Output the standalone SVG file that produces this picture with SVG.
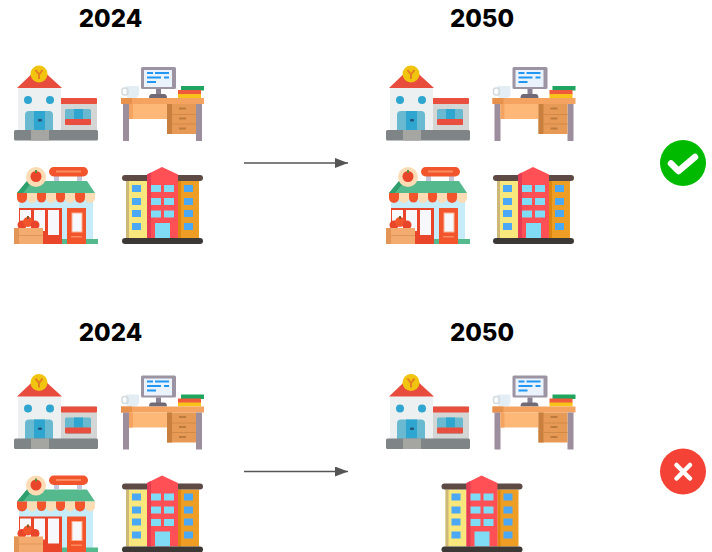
<svg xmlns="http://www.w3.org/2000/svg" xmlns:xlink="http://www.w3.org/1999/xlink" width="712" height="552" viewBox="0 0 712 552">
<style>
.yr{font-family:"Inter","Liberation Sans",sans-serif;font-weight:800;font-size:24px;fill:#000;text-anchor:middle}
.conn{stroke:#555;stroke-width:1.6;fill:none}
</style>
<defs>
<marker id="ah" markerUnits="userSpaceOnUse" markerWidth="13" markerHeight="10" refX="13" refY="5" orient="auto"><path d="M0 0L13 5L0 10Z" fill="#555"/></marker>
<g id="bank">
<rect x="60" y="98" width="37" height="33" fill="#d3d6d4"/>
<rect x="60" y="98" width="37" height="6" rx="1" fill="#e94f3f"/>
<rect x="65" y="109" width="26" height="16" rx="1.5" fill="#69b9d0"/>
<rect x="74" y="109" width="9" height="10" fill="#2ea6d0"/>
<rect x="65" y="119" width="26" height="6" rx="1" fill="#e94f3f"/>
<rect x="18" y="88" width="43" height="43" fill="#ecf0f1"/>
<path d="M17 88L39 67L62 88Z" fill="#e84c3d"/>
<circle cx="28" cy="100" r="4" fill="#2ea6d0"/><circle cx="50" cy="100" r="4" fill="#2ea6d0"/>
<path d="M25 131V115Q25 111 29 111H49Q53 111 53 115V131Z" fill="#69b9d0"/>
<rect x="34" y="111" width="11" height="20" fill="#2ea6d0"/>
<rect x="38" y="119" width="4" height="2.5" rx="1" fill="#24527a"/>
<rect x="14" y="130" width="84" height="10.500" rx="1.500" fill="#7f8487"/>
<rect x="31" y="130" width="18" height="10.500" fill="#a5a6a1"/>
<circle cx="39" cy="74" r="8.500" fill="#f1c40f"/>
<path d="M35.500 70L39 74.500L42.500 70M39 74.500V79" stroke="#e67e22" stroke-width="2" fill="none"/>
</g>
<g id="desk">
<rect x="141" y="67" width="35" height="22" rx="1.500" fill="#9c93a3"/>
<rect x="144" y="70" width="28" height="17" fill="#eaf3fb"/>
<path d="M147 73H153M155 73H169M147 77.500H161M164 77.500H169M147 82H156" stroke="#2196f3" stroke-width="1.800" fill="none"/>
<rect x="156" y="89" width="5" height="6" fill="#8a8292"/>
<path d="M149 98Q149 94 152 94H164Q167 94 167 98Z" fill="#6f6a75"/>
<path d="M126 86H138.500Q139 86 139 88V93Q139 98 134 98H130Q126 98 126 94Z" fill="#e3eef4"/>
<rect x="122" y="88" width="6" height="7" rx="2.500" fill="none" stroke="#d3dadd" stroke-width="1.500"/>
<rect x="181" y="86" width="23" height="4.500" fill="#1fa55f"/>
<rect x="178" y="90" width="23" height="4.500" fill="#ee5a3a"/>
<rect x="178" y="94" width="23" height="4" fill="#f8c21a"/>
<rect x="121" y="98" width="83" height="6" fill="#f4a460"/>
<rect x="121" y="98" width="11" height="6" fill="#e8914c"/>
<rect x="123" y="104" width="6" height="37" fill="#9c8e9d"/>
<rect x="196" y="104" width="6" height="37" fill="#9c8e9d"/>
<rect x="129" y="104" width="38" height="15" fill="#fdb878"/>
<rect x="129" y="104" width="4" height="15" fill="#f4a460"/>
<rect x="167" y="104" width="29" height="30" fill="#e79a55"/>
<rect x="167" y="104" width="5" height="30" fill="#c9803f"/>
<path d="M172 114.500H196M172 124H196" stroke="#d08a48" stroke-width="1"/>
<path d="M179 108.500H186M179 118.500H186M179 128.500H186" stroke="#bd7a3d" stroke-width="2"/>
</g>
<g id="shop">
<rect x="19" y="193" width="74" height="51" fill="#c6ecf9"/>
<path d="M27 181H87L95 193H17Z" fill="#54b98d"/>
<path d="M27 181L17 193H23L33 181Z" fill="#2f9f6d"/>
<g fill="#f2552c"><path d="M17 193h10v5a5 5 0 0 1-10 0Z"/><path d="M37 193h9v5a4.500 4.500 0 0 1-9 0Z"/><path d="M56 193h9v5a4.500 4.500 0 0 1-9 0Z"/><path d="M75 193h10v5a5 5 0 0 1-10 0Z"/></g>
<g fill="#fbdcb5"><path d="M27 193h10v5a5 5 0 0 1-10 0Z"/><path d="M46 193h10v5a5 5 0 0 1-10 0Z"/><path d="M65 193h10v5a5 5 0 0 1-10 0Z"/><path d="M85 193h10v5a5 5 0 0 1-10 0Z"/></g>
<rect x="54" y="176" width="5" height="5" fill="#c5c6dc"/><rect x="77" y="176" width="5" height="5" fill="#c5c6dc"/>
<rect x="49" y="167" width="39" height="9.500" rx="4.700" fill="#f2552c"/>
<rect x="56" y="170.500" width="25" height="2" fill="#f98b5f"/>
<circle cx="36" cy="177" r="10" fill="#fbdcb5"/>
<circle cx="36" cy="176.500" r="5.500" fill="#e8452b"/>
<rect x="35" y="170" width="2" height="3" fill="#5a8f3c"/>
<rect x="19" y="208" width="43" height="36" fill="#e8452b"/>
<rect x="20" y="210" width="11" height="21" fill="#f6f8fb"/>
<rect x="34" y="210" width="11" height="21" fill="#f6f8fb"/>
<rect x="48" y="210" width="11" height="25" fill="#f6f8fb"/>
<rect x="62" y="239" width="36" height="5" fill="#54b98d"/>
<rect x="67" y="208" width="19" height="36" fill="#f2552c"/>
<rect x="72" y="213" width="10" height="19" fill="#f6f8fb" stroke="#fbb08f" stroke-width="1"/>
<rect x="71" y="236" width="11" height="1.500" fill="#f98b5f"/>
<circle cx="22" cy="225" r="4.500" fill="#e8452b"/><circle cx="28" cy="222" r="5" fill="#f2552c"/><circle cx="35" cy="225" r="4.500" fill="#e8452b"/>
<rect x="27" y="216" width="2" height="3" fill="#8a5a2b"/>
<rect x="14" y="228" width="29" height="16" fill="#f4ab6f"/>
<rect x="14" y="228" width="5" height="16" fill="#e39557"/>
<rect x="14" y="235" width="29" height="1" fill="#e39557"/>
</g>
<g id="building">
<rect x="126" y="181" width="21" height="57" fill="#f8e77c"/>
<rect x="126" y="181" width="3" height="57" fill="#cdb878"/>
<rect x="178" y="181" width="21" height="57" fill="#ee9d25"/>
<rect x="178" y="181" width="3" height="57" fill="#dd8610"/>
<rect x="122" y="175" width="81" height="6" rx="3" fill="#5d4a45"/>
<path d="M147 174.500L162 167L178 174.500V238H147Z" fill="#ff5055"/>
<path d="M147 174.500L151 172.500V238H147Z" fill="#e63d55"/>
<g fill="#4aa8f5">
<rect x="132" y="185" width="9" height="7"/><rect x="132" y="198" width="9" height="7"/><rect x="132" y="210" width="9" height="7"/><rect x="132" y="223" width="9" height="7"/>
<rect x="184" y="185" width="9" height="7"/><rect x="184" y="198" width="9" height="7"/><rect x="184" y="210" width="9" height="7"/><rect x="184" y="223" width="9" height="7"/>
</g>
<g fill="#80dcf5">
<rect x="151" y="185" width="10" height="7"/><rect x="164" y="185" width="10" height="7"/>
<rect x="151" y="198" width="10" height="7"/><rect x="164" y="198" width="10" height="7"/>
<rect x="151" y="210.500" width="10" height="7"/><rect x="164" y="210.500" width="10" height="7"/>
<rect x="155" y="223" width="15" height="15"/>
</g>
<rect x="122" y="238" width="81" height="6" rx="3" fill="#3c3836"/>
</g>
</defs>

<g id="label-2024-top"><text class="yr" x="110.500" y="26.500">2024</text></g>
<g id="label-2050-top"><text class="yr" x="482" y="26.500">2050</text></g>
<g id="label-2024-bottom"><text class="yr" x="110.500" y="340.500">2024</text></g>
<g id="label-2050-bottom"><text class="yr" x="482" y="340.500">2050</text></g>

<g id="top-2024">
<g id="bank-a"><use href="#bank"/></g>
<g id="desk-a"><use href="#desk"/></g>
<g id="shop-a"><use href="#shop"/></g>
<g id="building-a"><use href="#building"/></g>
</g>
<g id="top-2050">
<g id="bank-b"><use href="#bank" x="372"/></g>
<g id="desk-b"><use href="#desk" x="371.500"/></g>
<g id="shop-b"><use href="#shop" x="372"/></g>
<g id="building-b"><use href="#building" x="371"/></g>
</g>
<g id="bottom-2024">
<g id="bank-c"><use href="#bank" y="308.500"/></g>
<g id="desk-c"><use href="#desk" y="308.500"/></g>
<g id="shop-c"><use href="#shop" y="308.500"/></g>
<g id="building-c"><use href="#building" y="308.500"/></g>
</g>
<g id="bottom-2050">
<g id="bank-d"><use href="#bank" x="372" y="308.500"/></g>
<g id="desk-d"><use href="#desk" x="371.500" y="308.500"/></g>
<g id="building-d"><use href="#building" x="319.500" y="308.500"/></g>
</g>

<g id="connectors">
<path class="conn" d="M244 163H348" marker-end="url(#ah)"/>
<path class="conn" d="M244 471.500H348" marker-end="url(#ah)"/>
</g>

<g id="check">
<circle cx="683" cy="163" r="23" fill="#00ba00"/>
<path d="M671 163.500L678.500 171L695 157" fill="none" stroke="#fff" stroke-width="6.500" stroke-linecap="round" stroke-linejoin="round"/>
</g>
<g id="cross">
<circle cx="683" cy="471.500" r="23" fill="#f44336"/>
<path d="M676.500 465L690 478.500M690 465L676.500 478.500" fill="none" stroke="#fff" stroke-width="4.500" stroke-linecap="round"/>
</g>
</svg>
